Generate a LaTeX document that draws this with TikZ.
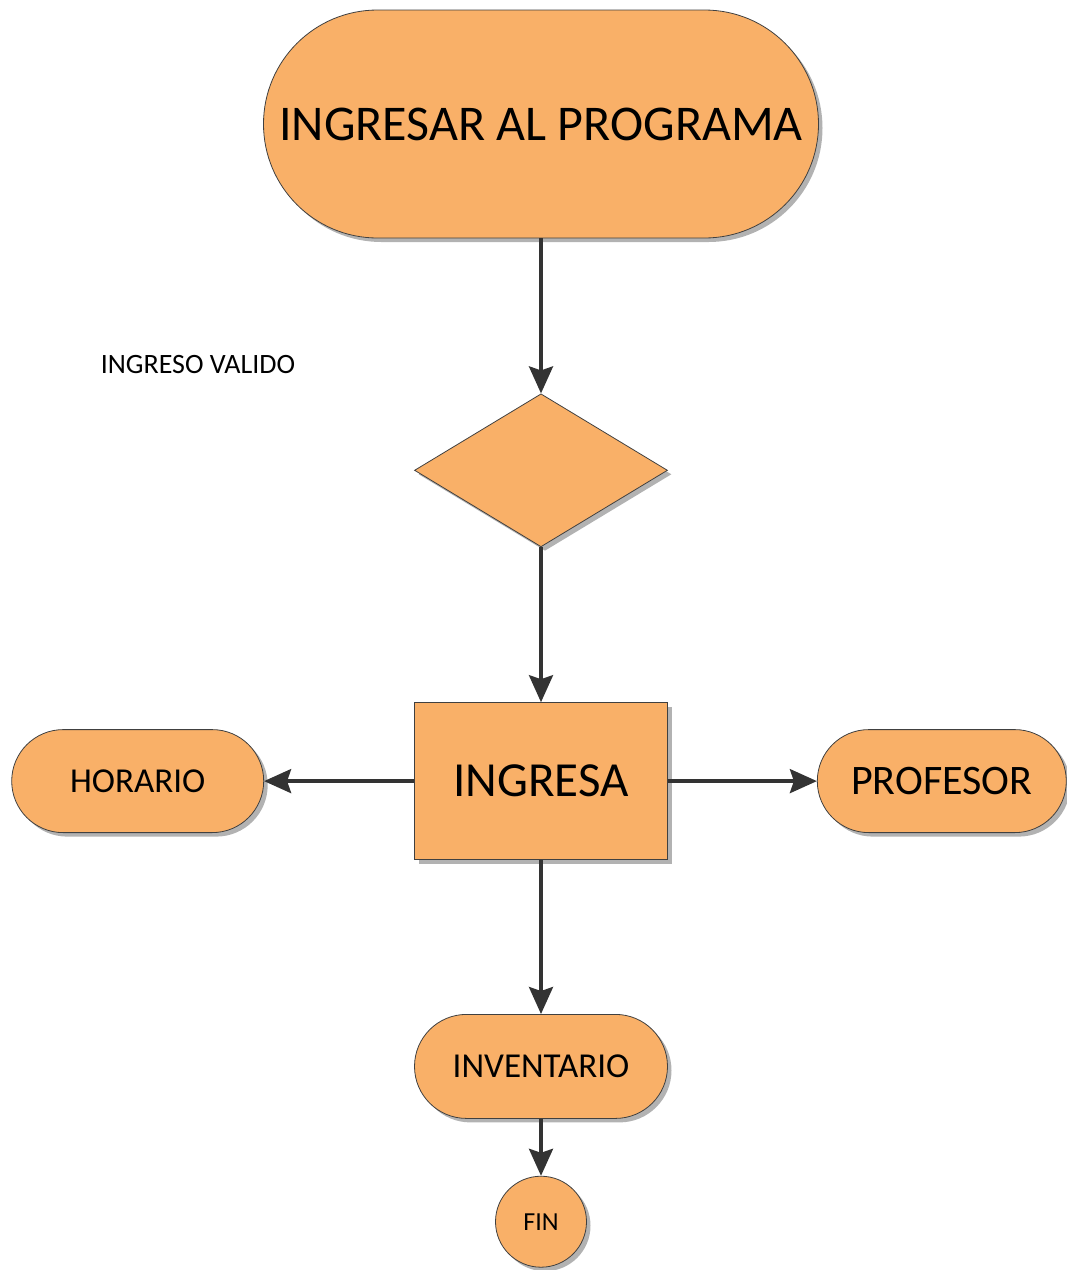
\documentclass[tikz,border=0pt]{standalone}
\usepackage{fontspec}
\setmainfont{Carlito}
\usetikzlibrary{arrows.meta, positioning, shapes.geometric, shadows}
\definecolor{mainorange}{RGB}{249, 176, 104}
\definecolor{edgegray}{RGB}{64, 64, 64}
\definecolor{arrowgray}{RGB}{51, 51, 51}
\definecolor{shadowgray}{RGB}{178, 178, 178}

\begin{document}
\begin{tikzpicture}[x=1pt, y=-1pt,
  box/.style={draw=edgegray, line width=0.8pt, fill=mainorange, inner sep=0pt,
    drop shadow={shadow xshift=4pt, shadow yshift=-4pt, fill=shadowgray, opacity=1}},
  term/.style={box, rounded corners=#1, minimum height=2*#1},
  arr/.style={draw=arrowgray, line width=3.5pt, -{Stealth[length=27pt, width=24pt, inset=4pt]}}]
\useasboundingbox (0,0) rectangle (1067,1270);
\node[term=114pt, minimum width=555pt, font=\fontsize{50}{60}\selectfont] (start) at (541,124) {INGRESAR AL PROGRAMA};
\node[box, diamond, minimum width=253pt, minimum height=153pt, below=155pt of start] (valid) {};
\node[box, minimum width=253pt, minimum height=157pt, below=155pt of valid, font=\fontsize{49}{58}\selectfont] (ingresa) {INGRESA};
\node[term=51.5pt, minimum width=252pt, left=150pt of ingresa, font=\fontsize{35}{42}\selectfont] (horario) {HORARIO};
\node[term=51.5pt, minimum width=249pt, right=149pt of ingresa, font=\fontsize{42}{50}\selectfont] (profesor) {PROFESOR};
\node[term=52pt, minimum width=253pt, below=154pt of ingresa, font=\fontsize{35}{42}\selectfont] (inventario) {INVENTARIO};
\node[box, circle, minimum size=91pt, below=57pt of inventario, font=\fontsize{26}{31}\selectfont] (fin) {FIN};
\node[inner sep=0pt, font=\fontsize{28}{34}\selectfont] (label) at (198,365) {INGRESO VALIDO};
\draw[arr] (start) -- (valid);
\draw[arr] (valid) -- (ingresa);
\draw[arr] (ingresa) -- (horario);
\draw[arr] (ingresa) -- (profesor);
\draw[arr] (ingresa) -- (inventario);
\draw[arr] (inventario) -- (fin);
\end{tikzpicture}
\end{document}
